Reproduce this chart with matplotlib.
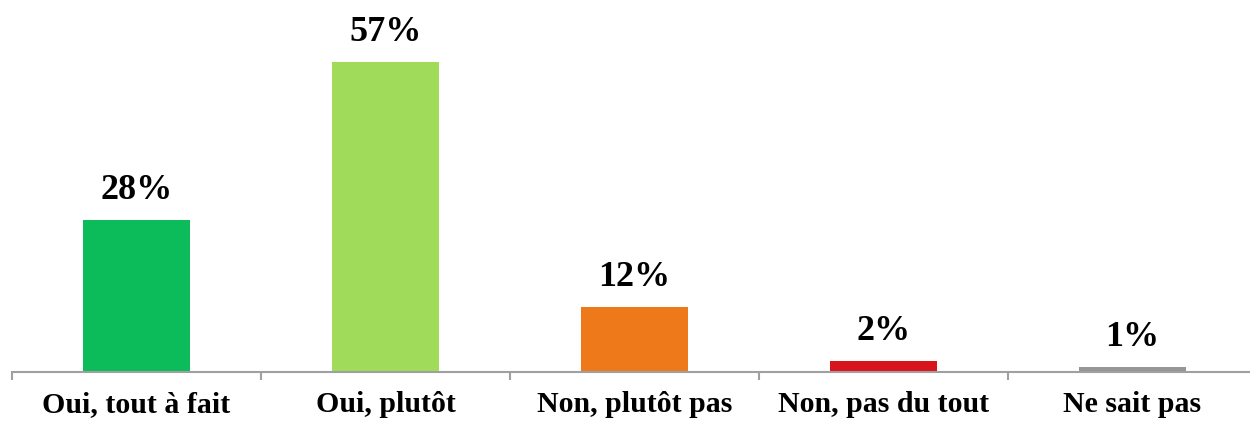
import numpy as np
import matplotlib
matplotlib.use('Agg')
import matplotlib.pyplot as plt

# Données du graphique
categories = ['Oui, tout à fait', 'Oui, plutôt', 'Non, plutôt pas', 'Non, pas du tout', 'Ne sait pas']
valeurs = [28, 57, 12, 2, 1]
couleurs = ['#0cbb5a', '#a0dc5a', '#ee791a', '#d8141c', '#969696']

plt.rcParams['font.family'] = ['Liberation Serif', 'DejaVu Serif']

fig = plt.figure(figsize=(12.5, 4.23), dpi=100)
# axe de 12 px à 1257 px en largeur, base à 51 px du bas
ax = fig.add_axes([12 / 1250, 51 / 423, 1245 / 1250, 372 / 423])

x = np.arange(len(categories))
bars = ax.bar(x, valeurs, width=0.43, color=couleurs, zorder=2)

for xi, v in zip(x, valeurs):
    ax.text(xi, v + 2.4, f'{v}%', ha='center', va='bottom',
            fontsize=26, fontweight='bold', color='black')

ax.set_xlim(-0.5, len(categories) - 0.5)
ax.set_ylim(0, 372 / 5.44)

# ticks aux frontières entre catégories
ax.set_xticks(np.arange(len(categories) + 1) - 0.5)
ax.set_xticklabels([])
ax.tick_params(axis='x', direction='out', length=6, width=1.5, color='#a0a0a0')
ax.set_xticks(x, minor=True)
ax.set_xticklabels(categories, minor=True, fontsize=21.5, fontweight='bold')
ax.tick_params(axis='x', which='minor', length=0, pad=14)

ax.set_yticks([])
for s in ['top', 'right', 'left']:
    ax.spines[s].set_visible(False)
ax.spines['bottom'].set_color('#a0a0a0')
ax.spines['bottom'].set_linewidth(1.5)

fig.savefig('out.png', dpi=100)
